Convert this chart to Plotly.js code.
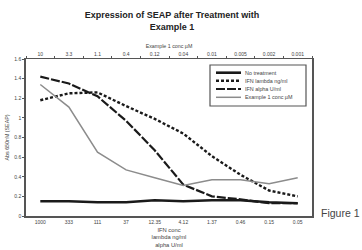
<!DOCTYPE html>
<html>
<head>
<meta charset="utf-8">
<script src="https://cdn.plot.ly/plotly-3.0.1.min.js"></script>
<style>html,body{margin:0;padding:0;background:#fff;}#chart{width:362px;height:250px;}</style>
</head>
<body>
<div id="chart"></div>
<script>
// ---- data ----
const ifnConc = ['1000','333','111','37','12.35','4.12','1.37','0.46','0.15','0.05'];
const ex1Conc = ['10','3.3','1.1','0.4','0.12','0.04','0.01','0.005','0.002','0.001'];
const seriesNames = ['No treatment','IFN lambda ng/ml','IFN alpha U/ml','Example 1 conc µM'];
const noTreatment = [0.15,0.15,0.14,0.14,0.16,0.15,0.16,0.16,0.14,0.13];
const ifnLambda   = [1.18,1.25,1.26,1.12,0.99,0.84,0.61,0.42,0.26,0.20];
const ifnAlpha    = [1.42,1.35,1.22,0.97,0.67,0.32,0.20,0.17,0.13,0.13];
const example1    = [1.34,1.11,0.65,0.47,0.39,0.31,0.37,0.37,0.33,0.39];

// ---- styles ----
const styles = [
  {color:'#1a1a1a', width:2.6, dash:'solid'},
  {color:'#1a1a1a', width:2.4, dash:'3px,2px'},
  {color:'#1a1a1a', width:2.2, dash:'9px,2px'},
  {color:'#8c8c8c', width:1.5, dash:'solid'}
];

const traces = [
  {x: ifnConc, y: noTreatment, xaxis:'x', name: seriesNames[0]},
  {x: ifnConc, y: ifnLambda, xaxis:'x', name: seriesNames[1]},
  {x: ifnConc, y: ifnAlpha, xaxis:'x', name: seriesNames[2]},
  {x: ex1Conc, y: example1, xaxis:'x2', name: seriesNames[3]}
].map((t,i)=>Object.assign(t,{type:'scatter', mode:'lines', line:styles[i], showlegend:false, hoverinfo:'skip'}));

// plot-area pixel geometry (for the hand-made legend)
const W=362,H=250, L=26, R=50, T=59, B=34;
const pw=W-L-R, ph=H-T-B;
const px=(x)=>(x-L)/pw, py=(y)=>(H-B-y)/ph;

const shapes=[{type:'rect', xref:'paper', yref:'paper', x0:px(210), x1:px(306), y0:py(106), y1:py(65), line:{color:'#555', width:1.2}, fillcolor:'rgba(0,0,0,0)'}];
const annotations=[];
const rowY=[72.7,80.7,89,97.3];
seriesNames.forEach((n,i)=>{
  shapes.push({type:'line', xref:'paper', yref:'paper', x0:px(216), x1:px(241), y0:py(rowY[i]), y1:py(rowY[i]), line:{color:styles[i].color, width:styles[i].width, dash:styles[i].dash}});
  annotations.push({xref:'paper', yref:'paper', x:px(242.5), y:py(rowY[i]), xanchor:'left', yanchor:'middle', text:n, showarrow:false, font:{size:5.4, color:'#444'}});
});
annotations.push({xref:'paper', yref:'paper', x:px(319), y:py(213), xanchor:'left', yanchor:'middle', text:'Figure 1', showarrow:false, font:{size:10.5, color:'#444'}});

const axFont={family:'Liberation Sans, Arial, sans-serif', size:5, color:'#444'};
const layout={
  width:W, height:H,
  margin:{l:L, r:R, t:T, b:B, pad:0},
  paper_bgcolor:'#fff', plot_bgcolor:'#fff',
  font:{family:'Liberation Sans, Arial, sans-serif', color:'#333'},
  title:{text:'<b>Expression of SEAP after Treatment with<br>Example 1</b>', x:172/W, xanchor:'center', y:1-18/H, yanchor:'top', yref:'container', font:{size:9, color:'#222'}},
  xaxis:{type:'category', categoryorder:'array', categoryarray:ifnConc, range:[-0.5,9.5], showline:true, linecolor:'#555', linewidth:1.5, ticks:'', showgrid:false, zeroline:false, tickfont:axFont,
         title:{text:'IFN conc<br>lambda ng/ml<br>alpha U/ml', font:{size:5.8, color:'#444'}, standoff:4}},
  xaxis2:{type:'category', categoryorder:'array', categoryarray:ex1Conc, overlaying:'x', side:'top', range:[-0.5,9.5], showline:true, linecolor:'#555', linewidth:1.5, ticks:'outside', tickson:'boundaries', ticklen:2, tickcolor:'#555', showgrid:false, zeroline:false, tickfont:axFont,
         title:{text:'Example 1 conc µM', font:{size:5.3, color:'#444'}, standoff:1}},
  yaxis:{range:[0,1.6], dtick:0.2, showline:true, mirror:true, linecolor:'#555', linewidth:1.8, ticks:'outside', ticklen:2, tickcolor:'#555', showgrid:false, zeroline:false, tickfont:axFont,
         title:{text:'Abs 650nM (SEAP)', font:{size:5.3, color:'#444'}, standoff:4}},
  shapes:shapes, annotations:annotations, showlegend:false
};
Plotly.newPlot('chart', traces, layout, {staticPlot:true, displayModeBar:false});
</script>
</body>
</html>
